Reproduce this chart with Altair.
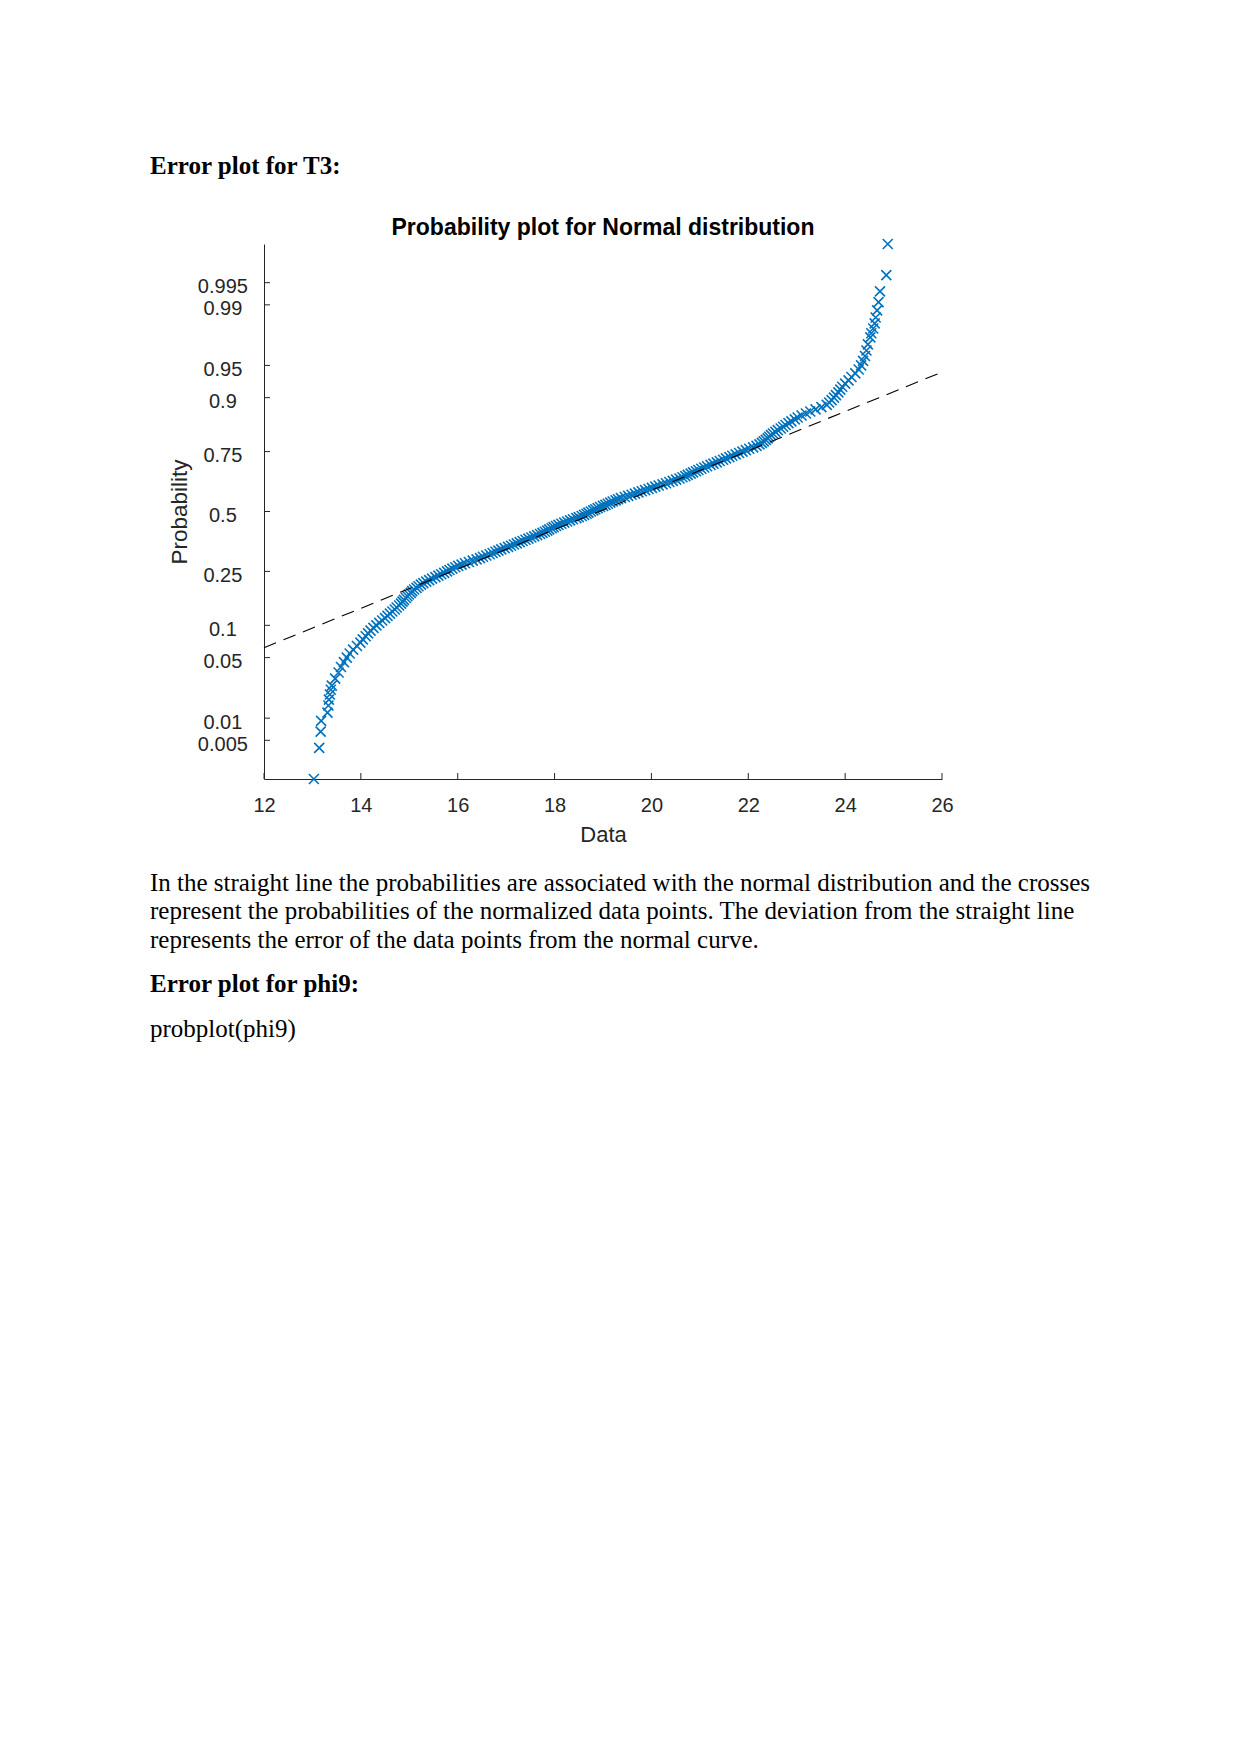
import altair as alt
import pandas as pd
from statistics import NormalDist

# ---------------- text of the page ----------------
heading_1 = "Error plot for T3:"
paragraph = [
    "In the straight line the probabilities are associated with the normal distribution and the crosses",
    "represent the probabilities of the normalized data points. The deviation from the straight line",
    "represents the error of the data points from the normal curve.",
]
heading_2 = "Error plot for phi9:"
code_line = "probplot(phi9)"

chart_title = "Probability plot for Normal distribution"
x_title = "Data"
y_title = "Probability"

# ---------------- data ----------------
data_p = [0.0013, 0.0039, 0.0066, 0.0092, 0.0118, 0.0145, 0.0171, 0.0197, 0.0224, 0.025,
          0.03, 0.035, 0.04, 0.045, 0.05, 0.055, 0.06, 0.065, 0.07, 0.075,
          0.08, 0.085, 0.09, 0.095, 0.10, 0.105, 0.11, 0.115, 0.12, 0.125,
          0.13, 0.135, 0.14, 0.145, 0.15, 0.155, 0.16, 0.165, 0.17, 0.175,
          0.18, 0.185, 0.19, 0.195, 0.20, 0.21, 0.22, 0.23, 0.24, 0.25,
          0.26, 0.27, 0.28, 0.29, 0.30, 0.31, 0.32, 0.33, 0.34, 0.35,
          0.36, 0.37, 0.38, 0.39, 0.40, 0.41, 0.42, 0.43, 0.44, 0.45,
          0.46, 0.47, 0.48, 0.49, 0.50, 0.51, 0.52, 0.53, 0.54, 0.55,
          0.56, 0.57, 0.58, 0.59, 0.60, 0.61, 0.62, 0.63, 0.64, 0.65,
          0.66, 0.67, 0.68, 0.69, 0.70, 0.71, 0.72, 0.73, 0.74, 0.75,
          0.76, 0.77, 0.78, 0.79, 0.80, 0.805, 0.81, 0.815, 0.82, 0.825,
          0.83, 0.835, 0.84, 0.845, 0.85, 0.855, 0.86, 0.865, 0.87, 0.875,
          0.88, 0.885, 0.89, 0.895, 0.90, 0.905, 0.91, 0.915, 0.92, 0.925,
          0.93, 0.935, 0.94, 0.945, 0.95, 0.955, 0.96, 0.965, 0.97,
          0.975, 0.9776, 0.9803, 0.9829, 0.9855, 0.9882, 0.9908, 0.9934, 0.9961, 0.9987]
data_x = [13.03, 13.14, 13.17, 13.18, 13.31, 13.33, 13.34, 13.36, 13.38, 13.40,
          13.47, 13.54, 13.59, 13.65, 13.71, 13.77, 13.84, 13.92, 13.99, 14.04,
          14.10, 14.15, 14.20, 14.26, 14.32, 14.38, 14.44, 14.50, 14.55, 14.60,
          14.65, 14.70, 14.74, 14.79, 14.83, 14.86, 14.89, 14.93, 14.96, 14.99,
          15.03, 15.06, 15.10, 15.15, 15.19, 15.29, 15.41, 15.54, 15.66, 15.78,
          15.89, 16.01, 16.15, 16.31, 16.46, 16.59, 16.72, 16.84, 16.97, 17.10,
          17.22, 17.34, 17.46, 17.58, 17.70, 17.80, 17.89, 17.98, 18.08, 18.20,
          18.32, 18.45, 18.56, 18.66, 18.75, 18.84, 18.94, 19.05, 19.15, 19.26,
          19.37, 19.52, 19.66, 19.80, 19.94, 20.08, 20.23, 20.37, 20.51, 20.64,
          20.75, 20.86, 20.97, 21.09, 21.22, 21.35, 21.48, 21.61, 21.74, 21.88,
          22.02, 22.17, 22.28, 22.36, 22.43, 22.47, 22.51, 22.56, 22.61, 22.67,
          22.72, 22.77, 22.83, 22.89, 22.96, 23.02, 23.10, 23.19, 23.28, 23.39,
          23.51, 23.62, 23.67, 23.72, 23.77, 23.81, 23.86, 23.90, 23.94, 24.00,
          24.07, 24.13, 24.21, 24.28, 24.33, 24.37, 24.41, 24.44, 24.47,
          24.52, 24.54, 24.58, 24.61, 24.63, 24.66, 24.69, 24.72, 24.85, 24.88]

# extra crosses read in the dense middle of the band
mid_p = [0.205, 0.215, 0.225, 0.235, 0.245, 0.255, 0.265, 0.275, 0.285, 0.295,
         0.305, 0.315, 0.325, 0.335, 0.345, 0.355, 0.365, 0.375, 0.385, 0.395,
         0.405, 0.415, 0.425, 0.435, 0.445, 0.455, 0.465, 0.475, 0.485, 0.495,
         0.505, 0.515, 0.525, 0.535, 0.545, 0.555, 0.565, 0.575, 0.585, 0.595,
         0.605, 0.615, 0.625, 0.635, 0.645, 0.655, 0.665, 0.675, 0.685, 0.695,
         0.705, 0.715, 0.725, 0.735, 0.745, 0.755, 0.765, 0.775, 0.785, 0.795]
mid_x = [15.24, 15.35, 15.47, 15.60, 15.72, 15.83, 15.95, 16.08, 16.23, 16.39,
         16.52, 16.66, 16.78, 16.90, 17.04, 17.16, 17.28, 17.40, 17.52, 17.64,
         17.75, 17.85, 17.94, 18.03, 18.14, 18.26, 18.38, 18.50, 18.61, 18.70,
         18.80, 18.89, 19.00, 19.10, 19.20, 19.31, 19.45, 19.59, 19.73, 19.87,
         20.01, 20.15, 20.30, 20.44, 20.58, 20.70, 20.81, 20.92, 21.03, 21.15,
         21.28, 21.41, 21.54, 21.67, 21.81, 21.95, 22.10, 22.23, 22.32, 22.40]

ref_x = [12, 26]
ref_p = [0.0626, 0.9417]

x_ticks = [12, 14, 16, 18, 20, 22, 24, 26]
p_ticks = [0.005, 0.01, 0.05, 0.1, 0.25, 0.5, 0.75, 0.9, 0.95, 0.99, 0.995]

# ---------------- build tables ----------------
nd = NormalDist()
all_p = data_p + mid_p
all_x = data_x + mid_x
pts = pd.DataFrame({"x": all_x, "p": all_p})
pts["z"] = [nd.inv_cdf(p) for p in all_p]
ref = pd.DataFrame({"x": ref_x, "z": [nd.inv_cdf(p) for p in ref_p]})
z_ticks = [nd.inv_cdf(p) for p in p_ticks]
yt = pd.DataFrame({"z": z_ticks})
xt = pd.DataFrame({"x": x_ticks})

z_lo = nd.inv_cdf(min(all_p))
z_hi = nd.inv_cdf(max(all_p))

# label expression: map z-tick positions back to probability labels
parts = []
for i in range(len(p_ticks) - 1):
    mid = (z_ticks[i] + z_ticks[i + 1]) / 2
    parts.append(f"datum.value < {mid:.4f} ? '{p_ticks[i]:g}' : ")
label_expr = "".join(parts) + f"'{p_ticks[-1]:g}'"

W, H = 678, 535
AX = "#262626"
SANS = "Liberation Sans"
SERIF = "Liberation Serif"

xscale = alt.Scale(domain=[12, 26], nice=False, zero=False)
yscale = alt.Scale(domain=[z_lo, z_hi], nice=False, zero=False)

x_axis = alt.Axis(values=x_ticks, ticks=False, tickSize=0, grid=False,
                  domain=True, domainColor=AX, domainWidth=1,
                  labelFont=SANS, labelFontSize=20, labelColor=AX,
                  labelBaseline="alphabetic", labelPadding=32,
                  labelFlush=False, labelOverlap=False, format="d",
                  title=x_title, titleFont=SANS, titleFontSize=22,
                  titleFontWeight="normal", titleColor=AX,
                  titleX=W / 2, titleY=62, titleAlign="center",
                  titleBaseline="alphabetic")
y_axis = alt.Axis(values=z_ticks, ticks=False, tickSize=0, grid=False,
                  domain=True, domainColor=AX, domainWidth=1,
                  labelFont=SANS, labelFontSize=20, labelColor=AX,
                  labelAlign="center", labelBaseline="alphabetic",
                  labelPadding=41.6, labelOffset=10,
                  labelFlush=False, labelOverlap=False, labelExpr=label_expr,
                  title=y_title, titleFont=SANS, titleFontSize=22.5,
                  titleFontWeight="normal", titleColor=AX,
                  titleAngle=270, titleX=-78, titleY=H / 2,
                  titleAlign="center", titleBaseline="alphabetic")

x_shape = "M-1,-1L1,1M-1,1L1,-1"

points = alt.Chart(pts).mark_point(
    shape=x_shape, filled=False, color="#0072BD", strokeWidth=1.6, size=100, opacity=1
).encode(
    x=alt.X("x:Q", scale=xscale, axis=x_axis),
    y=alt.Y("z:Q", scale=yscale, axis=y_axis),
)

ref_line = alt.Chart(ref).mark_line(
    color="black", strokeWidth=1.1, strokeDash=[13, 8]
).encode(
    x=alt.X("x:Q", scale=xscale, axis=x_axis),
    y=alt.Y("z:Q", scale=yscale, axis=y_axis),
)

x_tick_marks = alt.Chart(xt).mark_rule(color=AX, strokeWidth=1).encode(
    x=alt.X("x:Q", scale=xscale, axis=x_axis),
    y=alt.value(H), y2=alt.value(H - 6),
)
y_tick_marks = alt.Chart(yt).mark_rule(color=AX, strokeWidth=1).encode(
    y=alt.Y("z:Q", scale=yscale, axis=y_axis),
    x=alt.value(0), x2=alt.value(6),
)


def text_layer(txt, x, y, size, font, weight="normal", align="left", color="black"):
    return alt.Chart(pd.DataFrame({"t": [txt]})).mark_text(
        align=align, baseline="alphabetic", font=font, fontSize=size,
        fontWeight=weight, color=color
    ).encode(text="t:N", x=alt.value(x), y=alt.value(y))


texts = [
    text_layer(chart_title, W / 2, -9, 23, SANS, weight="bold", align="center"),
    text_layer(heading_1, -114, -70, 25, SERIF, weight="bold"),
    text_layer(paragraph[0], -114, 647, 25, SERIF),
    text_layer(paragraph[1], -114, 675, 25, SERIF),
    text_layer(paragraph[2], -114, 704, 25, SERIF),
    text_layer(heading_2, -114, 748, 25, SERIF, weight="bold"),
    text_layer(code_line, -114, 793, 25, SERIF),
]

chart = alt.layer(points, ref_line, x_tick_marks, y_tick_marks, *texts).properties(
    width=W, height=H,
    padding={"left": 256, "top": 236, "right": 291, "bottom": 330},
    autosize=alt.AutoSizeParams(type="none"),
    background="white",
).configure_view(stroke=None)

chart.save("out.html", embed_options={"renderer": "svg", "actions": False})
